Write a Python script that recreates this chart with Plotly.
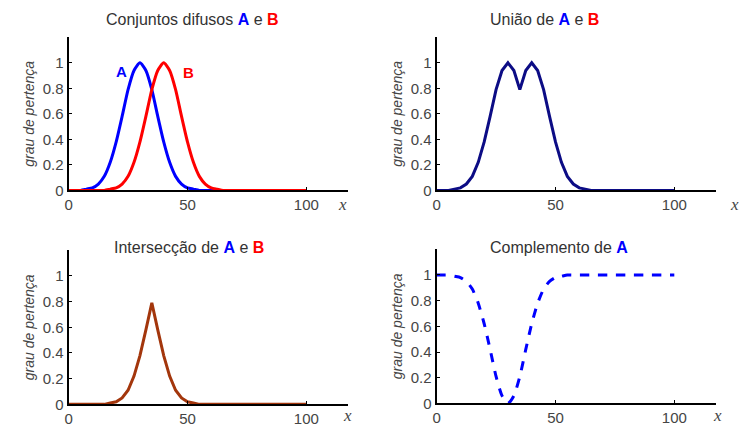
import plotly.graph_objects as go

# ---- data ----
x_vals = [0, 2.5, 5, 7.5, 10, 12.5, 15, 17.5, 20, 22.5, 25, 27.5, 30, 32.5, 35, 37.5, 40,
          42.5, 45, 47.5, 50, 52.5, 55, 57.5, 60, 62.5, 65, 67.5, 70, 72.5, 75, 77.5, 80,
          82.5, 85, 87.5, 90, 92.5, 95, 97.5, 100]

set_a = [0, 0, 0, 0.01, 0.02, 0.05, 0.11, 0.22, 0.38, 0.58, 0.79, 0.94, 1.0, 0.94, 0.79,
         0.58, 0.38, 0.22, 0.11, 0.05, 0.02, 0.01, 0, 0, 0, 0, 0, 0, 0, 0, 0, 0, 0, 0, 0,
         0, 0, 0, 0, 0, 0]

set_b = [0, 0, 0, 0, 0, 0, 0, 0.01, 0.02, 0.05, 0.11, 0.22, 0.38, 0.58, 0.79, 0.94, 1.0,
         0.94, 0.79, 0.58, 0.38, 0.22, 0.11, 0.05, 0.02, 0.01, 0, 0, 0, 0, 0, 0, 0, 0, 0,
         0, 0, 0, 0, 0, 0]

union_ab = [0, 0, 0, 0.01, 0.02, 0.05, 0.11, 0.22, 0.38, 0.58, 0.79, 0.94, 1.0, 0.94, 0.79,
            0.94, 1.0, 0.94, 0.79, 0.58, 0.38, 0.22, 0.11, 0.05, 0.02, 0.01, 0, 0, 0, 0, 0,
            0, 0, 0, 0, 0, 0, 0, 0, 0, 0]

inter_ab = [0, 0, 0, 0, 0, 0, 0, 0.01, 0.02, 0.05, 0.11, 0.22, 0.38, 0.58, 0.79, 0.58,
            0.38, 0.22, 0.11, 0.05, 0.02, 0.01, 0, 0, 0, 0, 0, 0, 0, 0, 0, 0, 0, 0, 0, 0,
            0, 0, 0, 0, 0]

compl_a = [1, 1, 1, 0.99, 0.98, 0.95, 0.89, 0.78, 0.62, 0.42, 0.21, 0.06, 0.0, 0.06, 0.21,
           0.42, 0.62, 0.78, 0.89, 0.95, 0.98, 0.99, 1, 1, 1, 1, 1, 1, 1, 1, 1, 1, 1, 1, 1,
           1, 1, 1, 1, 1, 1]

x_ticks = [0, 50, 100]
y_ticks = [0, 0.2, 0.4, 0.6, 0.8, 1]
y_tick_labels = ["0", "0.2", "0.4", "0.6", "0.8", "1"]

BLUE = "#0000ff"
RED = "#ff0000"
NAVY = "#0c0c85"
BROWN = "#a3360c"
TXT = "#333333"
GRAY = "#454545"

fig = go.Figure()
fig.add_trace(go.Scatter(x=x_vals, y=set_a, mode="lines",
                         line=dict(color=BLUE, width=3, shape="spline", smoothing=0.6),
                         xaxis="x", yaxis="y", showlegend=False))
fig.add_trace(go.Scatter(x=x_vals, y=set_b, mode="lines",
                         line=dict(color=RED, width=3, shape="spline", smoothing=0.6),
                         xaxis="x", yaxis="y", showlegend=False))
fig.add_trace(go.Scatter(x=x_vals, y=union_ab, mode="lines", line=dict(color=NAVY, width=3),
                         xaxis="x2", yaxis="y2", showlegend=False))
fig.add_trace(go.Scatter(x=x_vals, y=inter_ab, mode="lines", line=dict(color=BROWN, width=3),
                         xaxis="x3", yaxis="y3", showlegend=False))
fig.add_trace(go.Scatter(x=x_vals, y=compl_a, mode="lines",
                         line=dict(color=BLUE, width=3, dash="dash", shape="spline", smoothing=0.6),
                         xaxis="x4", yaxis="y4", showlegend=False))

W, H = 741, 431
def px_x(p):
    return p / W
def px_y(p):
    return max(0.0, min(1.0, 1 - p / H))

panels = [
    # (xaxis left, right, yaxis bottom, top) in pixels
    (65, 346, 194, 38),
    (435, 716, 194, 38),
    (65, 346, 412, 255),
    (435, 716, 411, 254),
]

layout = dict(
    width=W, height=H, margin=dict(l=0, r=0, t=0, b=0),
    paper_bgcolor="white", plot_bgcolor="white",
    font=dict(family="Liberation Sans, Arial, sans-serif", color=TXT, size=14),
    annotations=[],
)

for i, (l, r, b, t) in enumerate(panels):
    suf = "" if i == 0 else str(i + 1)
    layout["xaxis" + suf] = dict(
        domain=[px_x(l), px_x(r)], range=[0, 117.6], anchor="y" + suf,
        tickvals=x_ticks, ticks="inside", ticklen=3, tickcolor="black",
        showline=True, linecolor="black", linewidth=2, showgrid=False, zeroline=False,
        tickfont=dict(size=15, color=GRAY),
    )
    layout["yaxis" + suf] = dict(
        domain=[px_y(b), px_y(t)], range=[0, 1.2], anchor="x" + suf,
        tickvals=y_ticks, ticktext=y_tick_labels, ticks="inside", ticklen=3,
        tickcolor="black", showline=True, linecolor="black", linewidth=2,
        showgrid=False, zeroline=False, tickfont=dict(size=15, color=GRAY),
        title=dict(text="<i>grau de pertença</i>", font=dict(size=14, color=GRAY),
                   standoff=5),
    )

def ann(text, x, y, size=16, color=TXT, family=None, xanchor="center", yanchor="middle"):
    d = dict(text=text, x=x / W, y=px_y(y), xref="paper", yref="paper",
             showarrow=False, xanchor=xanchor, yanchor=yanchor,
             font=dict(size=size, color=color))
    if family:
        d["font"]["family"] = family
    layout["annotations"].append(d)

A = f"<b><span style='color:{BLUE}'>A</span></b>"
B = f"<b><span style='color:{RED}'>B</span></b>"
ann(f"Conjuntos difusos {A} e {B}", 190, 20)
ann(f"União de {A} e {B}", 543, 20)
ann(f"Intersecção de {A} e {B}", 186, 252)
ann(f"Complemento de {A}", 558, 252)

ann("<b>A</b>", 118, 73, size=15, color=BLUE)
ann("<b>B</b>", 186, 74, size=15, color=RED)

serif = "Liberation Serif, Times New Roman, serif"
ann("<i>x</i>", 340, 208, size=17, color=GRAY, family=serif)
ann("<i>x</i>", 734, 208, size=17, color=GRAY, family=serif)
ann("<i>x</i>", 345, 423, size=17, color=GRAY, family=serif)
ann("<i>x</i>", 717, 423, size=17, color=GRAY, family=serif)

fig.update_layout(**layout)
fig.write_html(
    "out.html",
    post_script=(
        "var gd=document.getElementById('{plot_id}');"
        "gd.style.overflow='hidden';"
        "document.body.style.margin='0';"
    ),
)
